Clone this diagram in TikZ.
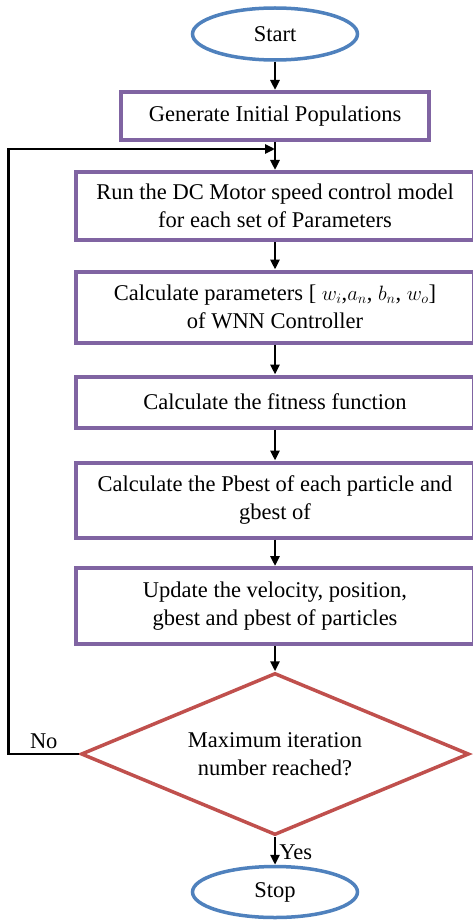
\documentclass[tikz,border=0pt]{standalone}
\usepackage{fontspec}
\setmainfont{Liberation Serif}
\usetikzlibrary{shapes.geometric,arrows.meta}

\definecolor{boxpurple}{HTML}{8064A2}
\definecolor{termblue}{HTML}{4F81BD}
\definecolor{decred}{HTML}{C0504D}

\begin{document}
\begin{tikzpicture}[
    x=1pt, y=-1pt,
    every node/.style={font=\fontsize{22.5}{28}\selectfont, inner sep=2pt},
    term/.style={ellipse, draw=termblue, line width=3.5pt, minimum width=165pt, minimum height=52pt},
    stepbox/.style={rectangle, draw=boxpurple, line width=4pt, align=center, minimum width=398pt},
    decision/.style={diamond, aspect=2.4, draw=decred, line width=3.5pt, align=center, minimum width=388pt, minimum height=162pt, inner sep=0pt},
    arrow/.style={-{Triangle[width=9pt,length=10pt]}, line width=2.8pt}
]
\useasboundingbox (0,0) rectangle (472,920);

% Terminals
\node[term] (start) at (275,34) {Start};
\node[term, minimum height=51pt] (stop) at (275,892) {Stop};

% Process steps
\node[stepbox, minimum width=308pt, minimum height=48pt] (gen) at (275,116) {Generate Initial Populations};
\node[stepbox, minimum height=68pt] (run) at (275,206) {Run the DC Motor speed control model\\for each set of Parameters};
\node[stepbox, minimum height=71pt] (par) at (275,307) {Calculate parameters [ $w_i$,$a_n$, $b_n$, $w_o$]\\of WNN Controller};
\node[stepbox, minimum height=51pt] (fit) at (275,402) {Calculate the fitness function};
\node[stepbox, minimum height=75pt] (pb) at (275,500) {Calculate the Pbest of each particle and\\gbest of};
\node[stepbox, minimum height=76pt] (upd) at (275,606) {Update the velocity, position,\\gbest and pbest of particles};

% Decision
\node[decision] (dec) at (275,754) {Maximum iteration\\number reached?};

% Loop entry point
\coordinate (join) at (275,149);

% Connections
\draw[arrow] (start) -- (gen);
\draw[arrow] (gen) -- (run);
\draw[arrow] (run) -- (par);
\draw[arrow] (par) -- (fit);
\draw[arrow] (fit) -- (pb);
\draw[arrow] (pb) -- (upd);
\draw[arrow] (upd) -- (dec);
\draw[arrow] (dec) -- node[right, xshift=1pt, yshift=-1pt] {Yes} (stop);
\draw[arrow] (dec.west) -- node[above, pos=0.5, yshift=2pt] {No} ++(-71,0) |- (join);

\end{tikzpicture}
\end{document}
